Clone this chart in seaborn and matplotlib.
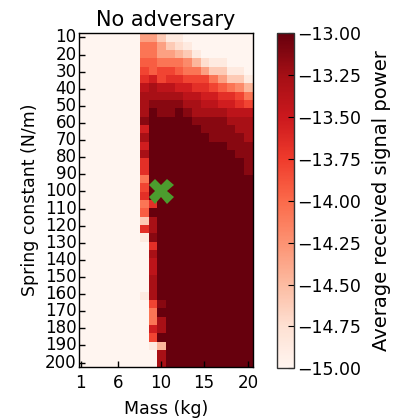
import numpy as np
import pandas as pd
import matplotlib
matplotlib.use('Agg')
import matplotlib.pyplot as plt
import seaborn as sns

# masses 1..20 kg (columns), spring constants 5..200 N/m (rows)
masses = list(range(1, 21))
springs = list(range(5, 205, 5))

# levels, hex digit per cell: 0 = -15.00 ... F = -13.00
levels = [
    "00000005531100000000",
    "00000007753210000000",
    "00000007755431000000",
    "00000008877764211000",
    "00000009899877533110",
    "0000000AB9AA99975331",
    "0000000CDCCBBAA98764",
    "0000000DDDDDCCBBAA97",
    "0000000DEEEEDDCCBBA9",
    "0000000DFEEFEDDDDCCC",
    "0000000EFFFFFEEEEDDD",
    "0000000BFFFFFFEEEEDD",
    "0000000DFFFFFFFEEEED",
    "0000000BFFFFFFFFFEEE",
    "0000000DFFFFFFFFFFEE",
    "0000000AFFFFFFFFFFFE",
    "0000000AFFFFFFFFFFFE",
    "00000007FFFFFFFFFFFF",
    "00000009FFFFFFFFFFFF",
    "0000000AFFFFFFFFFFFF",
    "00000007AFFFFFFFFFFF",
    "00000008FFFFFFFFFFFF",
    "00000003DFFFFFFFFFFF",
    "0000000ADFFFFFFFFFFF",
    "00000001EFFFFFFFFFFF",
    "00000000AFFFFFFFFFFF",
    "00000000DFFFFFFFFFFF",
    "00000000CFFFFFFFFFFF",
    "00000000CFFFFFFFFFFF",
    "00000000DFFFFFFFFFFF",
    "00000000DFFFFFFFFFFF",
    "00000001DFFFFFFFFFFF",
    "000000009EFFFFFFFFFF",
    "000000007FFFFFFFFFFF",
    "000000007DFFFFFFFFFF",
    "00000000BDFFFFFFFFFF",
    "000000009FFFFFFFFFFF",
    "0000000014FFFFFFFFFF",
    "000000000DFFFFFFFFFF",
    "000000000DFFFFFFFFFF",
]
vmin, vmax = -15.0, -13.0
power = np.array([[vmin + (vmax - vmin) * int(c, 16) / 15 for c in row] for row in levels])
df = pd.DataFrame(power, index=springs, columns=masses)

x_labels = [1, 6, 10, 15, 20]
x_pos = [0.15, 4.5, 9.4, 14.4, 19.5]
y_labels = list(range(10, 210, 10))
y_pos = np.linspace(0.5, 39.5, 20)

best_mass, best_spring = 10, 100

fig = plt.figure(figsize=(3.96, 4.18), dpi=100)
ax = fig.add_axes([0.2003, 0.1227, 0.4378, 0.7976])
cax = fig.add_axes([0.7003, 0.1190, 0.0422, 0.8013])

sns.heatmap(df, ax=ax, cbar_ax=cax, cmap='Reds', vmin=vmin, vmax=vmax)

ax.set_xticks(x_pos)
ax.set_xticklabels(x_labels, rotation=0, fontsize=12)
ax.set_yticks(y_pos)
ax.set_yticklabels(y_labels, rotation=0, fontsize=12)
ax.tick_params(direction='in', length=4, width=1, color='black', pad=2)
ax.tick_params(axis='x', pad=5)
for s in ax.spines.values():
    s.set_visible(True)
    s.set_color('black')
    s.set_linewidth(1)

mx = np.interp(best_mass, x_labels, x_pos)
my = np.interp(best_spring, y_labels, y_pos)
ax.plot(mx, my, marker='X', color='#4c9c2e', markersize=18, markeredgewidth=0)

ax.set_title('No adversary', fontsize=15, pad=5)
ax.set_xlabel('Mass (kg)', fontsize=12.5, labelpad=6)
ax.set_ylabel('Spring constant (N/m)', fontsize=12.5)

cb = ax.collections[0].colorbar
cb.outline.set_linewidth(1)
cb.outline.set_edgecolor('#333333')
cb.set_ticks([-13.0, -13.25, -13.5, -13.75, -14.0, -14.25, -14.5, -14.75, -15.0])
cax.tick_params(direction='in', length=4, labelsize=12.5, pad=2)
cb.set_label('Average received signal power', fontsize=14, labelpad=8)

fig.savefig('out.png', dpi=100)
